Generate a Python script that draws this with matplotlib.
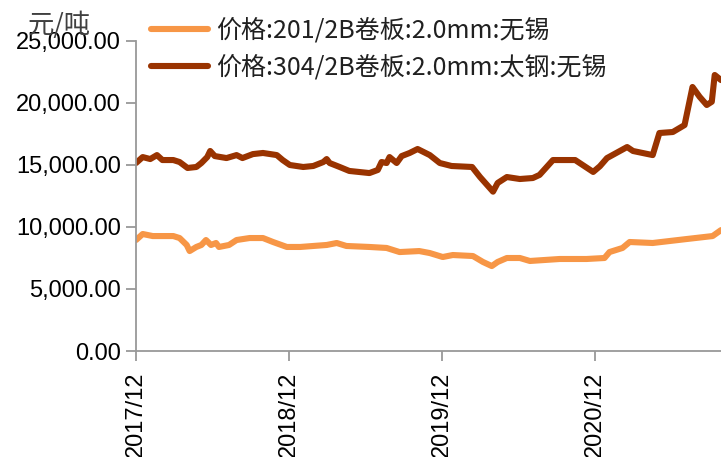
import matplotlib
matplotlib.use("Agg")
import matplotlib.pyplot as plt
import matplotlib.ticker as mticker
import pandas as pd

# 304/2B coil, 2.0mm, Taigang, Wuxi (yuan/t)
dates_304 = [
    "2017-12-01", "2017-12-17", "2018-01-04", "2018-01-20", "2018-02-02", "2018-02-28",
    "2018-03-15", "2018-04-03", "2018-04-24", "2018-05-06", "2018-05-20", "2018-05-27",
    "2018-06-07", "2018-07-05", "2018-07-29", "2018-08-12", "2018-09-06", "2018-09-30",
    "2018-11-02", "2018-11-16", "2018-12-03", "2019-01-04", "2019-01-28", "2019-02-21",
    "2019-03-01", "2019-03-08", "2019-04-01", "2019-04-24", "2019-06-11", "2019-07-01",
    "2019-07-10", "2019-07-22", "2019-07-29", "2019-08-15", "2019-08-27", "2019-09-15",
    "2019-10-04", "2019-11-02", "2019-11-26", "2019-12-24", "2020-02-11", "2020-03-01",
    "2020-04-01", "2020-04-12", "2020-05-04", "2020-06-04", "2020-07-05", "2020-07-21",
    "2020-08-22", "2020-10-14", "2020-11-26", "2020-12-12", "2020-12-29", "2021-02-15",
    "2021-03-01", "2021-04-17", "2021-05-03", "2021-06-04", "2021-07-02", "2021-07-21",
    "2021-08-07", "2021-08-24", "2021-09-05", "2021-09-12", "2021-09-27",
]
price_304 = [
    15160, 15640, 15480, 15800, 15400, 15400,
    15240, 14760, 14840, 15160, 15640, 16130,
    15720, 15560, 15800, 15560, 15880, 15970,
    15800, 15400, 15000, 14840, 14920, 15240,
    15480, 15160, 14840, 14520, 14350, 14600,
    15240, 15160, 15640, 15160, 15720, 15970,
    16290, 15800, 15160, 14920, 14840, 14030,
    12850, 13550, 14030, 13870, 13950, 14200,
    15400, 15400, 14440, 14900, 15560, 16450,
    16130, 15800, 17580, 17660, 18220, 21290,
    20500, 19840, 20100, 22260, 21850,
]

# 201/2B coil, 2.0mm, Wuxi (yuan/t)
dates_201 = [
    "2017-12-01", "2017-12-17", "2018-01-10", "2018-02-28", "2018-03-15", "2018-04-01",
    "2018-04-08", "2018-04-24", "2018-05-06", "2018-05-17", "2018-05-29", "2018-06-10",
    "2018-06-17", "2018-07-11", "2018-07-29", "2018-08-29", "2018-09-30", "2018-10-24",
    "2018-11-26", "2018-12-28", "2019-01-28", "2019-03-01", "2019-03-25", "2019-04-17",
    "2019-06-11", "2019-07-22", "2019-08-22", "2019-10-08", "2019-11-02", "2019-12-03",
    "2019-12-27", "2020-02-13", "2020-03-08", "2020-03-29", "2020-04-12", "2020-05-04",
    "2020-06-04", "2020-06-28", "2020-09-07", "2020-11-10", "2020-12-23", "2021-01-04",
    "2021-02-04", "2021-02-21", "2021-04-17", "2021-07-07", "2021-09-07", "2021-09-27",
]
price_201 = [
    8950, 9435, 9270, 9270, 9110, 8550,
    8060, 8390, 8550, 8950, 8550, 8710,
    8390, 8550, 8950, 9110, 9110, 8790,
    8390, 8390, 8470, 8550, 8710, 8470,
    8390, 8310, 7980, 8060, 7900, 7580,
    7740, 7660, 7180, 6850, 7180, 7500,
    7500, 7260, 7420, 7420, 7500, 7980,
    8310, 8790, 8710, 9030, 9270, 9750,
]

label_201 = "价格:201/2B卷板:2.0mm:无锡"
label_304 = "价格:304/2B卷板:2.0mm:太钢:无锡"
xtick_dates = ["2017-12-01", "2018-12-01", "2019-12-01", "2020-12-01"]
xtick_labels = ["2017/12", "2018/12", "2019/12", "2020/12"]

plt.rcParams["font.family"] = ["Liberation Sans", "Noto Sans CJK SC", "DejaVu Sans"]

fig = plt.figure(figsize=(7.21, 4.57), dpi=100)
ax = fig.add_axes([136 / 721, 1 - 351 / 457, 1 - 136 / 721, 310 / 457])

ax.plot(pd.to_datetime(dates_201), price_201, color="#F79646", lw=4.4,
        solid_joinstyle="round", solid_capstyle="round", label=label_201)
ax.plot(pd.to_datetime(dates_304), price_304, color="#993300", lw=4.4,
        solid_joinstyle="round", solid_capstyle="round", label=label_304)

ax.set_xlim(pd.Timestamp("2017-12-01"), pd.Timestamp("2021-09-27"))
ax.set_ylim(0, 25000)
ax.set_yticks([0, 5000, 10000, 15000, 20000, 25000])
ax.yaxis.set_major_formatter(mticker.StrMethodFormatter("{x:,.2f}"))
ax.set_xticks(pd.to_datetime(xtick_dates))
ax.set_xticklabels(xtick_labels, rotation=90, va="top", ha="center")

for side in ("top", "right"):
    ax.spines[side].set_visible(False)
for side in ("left", "bottom"):
    ax.spines[side].set_color("#999999")
    ax.spines[side].set_linewidth(1.3)
ax.tick_params(axis="both", colors="#999999", labelcolor="black", length=7, width=1.3,
               labelsize=17)
ax.tick_params(axis="y", pad=4)
ax.tick_params(axis="x", pad=8)

# unit label sits behind the top tick label
fig.text(28 / 721, 1 - 25 / 457, "元/吨", fontsize=19, color="#404040",
         family=["Noto Sans CJK SC", "DejaVu Sans"], va="center", ha="left")

leg = ax.legend(loc="upper left", bbox_to_anchor=(138 / 721, 1 - 5 / 457),
                bbox_transform=fig.transFigure, frameon=False, borderpad=0,
                handlelength=2.3, handletextpad=0.32, labelspacing=0.44,
                prop={"family": ["Noto Sans CJK SC", "DejaVu Sans"], "size": 18})
for t in leg.get_texts():
    t.set_color("#202020")

fig.savefig("out.png", dpi=100)
